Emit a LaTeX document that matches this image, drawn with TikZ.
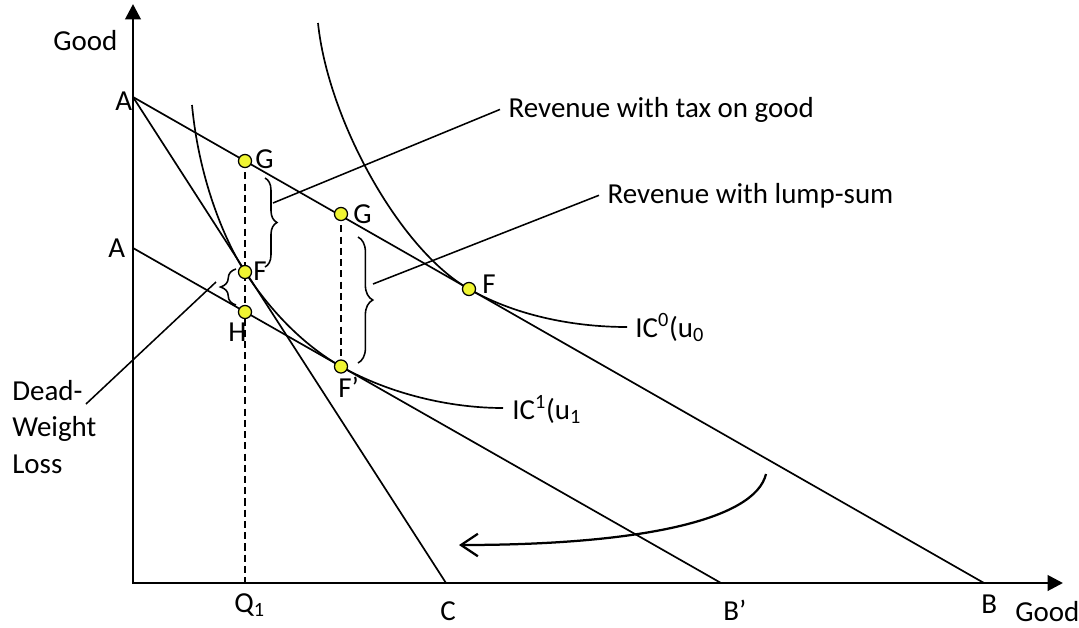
\documentclass[tikz,border=0pt]{standalone}
\usepackage{fontspec}
\setmainfont{Carlito}
\usetikzlibrary{arrows.meta,decorations.pathreplacing}
\definecolor{dotyellow}{RGB}{240,245,50}

\begin{document}
\begin{tikzpicture}[x=0.025cm, y=-0.025cm,
  every node/.style={font=\fontsize{20.6}{26}\selectfont, inner sep=0pt},
  axisline/.style={line width=2pt, {Triangle[length=11pt,width=11pt]}-{Triangle[length=11pt,width=11pt]}},
  budget/.style={line width=1.2pt},
  icurve/.style={line width=1.2pt},
  guide/.style={line width=1pt, dash pattern=on 5pt off 3pt},
  lead/.style={line width=1.1pt},
  curly/.style={line width=1.1pt, decorate, decoration={brace, amplitude=#1}},
  swing/.style={line width=1.6pt, -{Straight Barb[length=12pt,width=16pt]}},
  dot/.style={circle, draw, line width=0.9pt, fill=dotyellow, minimum size=9.3pt},
  ptlab/.style={anchor=base west},
  txt/.style={anchor=base west, inner xsep=6pt}
]
  \useasboundingbox (0,0) rectangle (1079,627);

  \coordinate (O) at (133,583);
  \coordinate (ytip) at (133,4);
  \coordinate (xtip) at (1063,583);
  \coordinate (A) at (133,97);
  \coordinate (A1) at (133,248);
  \coordinate (B) at (984,583);
  \coordinate (B1) at (721,583);
  \coordinate (C) at (446,583);
  \coordinate (Q) at (245,583);
  \coordinate (g0) at (245,161);
  \coordinate (g1) at (341,214);
  \coordinate (f0) at (469,289);
  \coordinate (f1) at (245,272);
  \coordinate (h) at (245,312);
  \coordinate (f2) at (341,366.5);

  \draw[axisline] (ytip) -- (O) -- (xtip);
  \draw[budget] (A) -- (B);
  \draw[budget] (A) -- (C);
  \draw[budget] (A1) -- (B1);

  \draw[icurve] (318,23) .. controls (328,120) and (400,250) .. (f0)
    .. controls (520,318) and (580,327) .. (627,327);
  \draw[icurve] (192,105) .. controls (199,180) and (225,241) .. (f1)
    .. controls (268,307) and (300,343) .. (f2)
    .. controls (390,394) and (450,408) .. (503,408);

  \draw[guide] (g0) -- (Q);
  \draw[guide] (g1) -- (f2);

  \draw[curly=8.5pt] (265,178) -- (265,267);
  \draw[curly=10.5pt] (358,237) -- (358,363);
  \draw[curly=11pt] (236,305) -- (236,269);

  \node[txt] (taxlbl) at (500,117) {Revenue with tax on good};
  \node[txt] (lumplbl) at (599,203) {Revenue with lump-sum};
  \node[anchor=north west, align=left] (dwl) at (12,380) {Dead-\\Weight\\Loss};
  \coordinate (taxfrom) at (273,203);
  \coordinate (lumpfrom) at (373,284);
  \coordinate (dwlfrom) at (216,282);
  \coordinate (dwlend) at (86,404);
  \draw[lead] (taxfrom) -- (taxlbl.west);
  \draw[lead] (lumpfrom) -- (lumplbl.west);
  \draw[lead] (dwlfrom) -- (dwlend);

  \node[ptlab] (ic0) at (635,337) {IC\textsuperscript{0}(u\textsubscript{0}};
  \node[ptlab] (ic1) at (512,419) {IC\textsuperscript{1}(u\textsubscript{1}};

  \coordinate (s0) at (766,474);
  \coordinate (s1) at (459,545);
  \draw[swing] (s0) .. controls (755,520) and (640,545) .. (s1);

  \node[dot] (G0) at (g0) {};
  \node[dot] (G1) at (g1) {};
  \node[dot] (F0) at (f0) {};
  \node[dot] (F1) at (f1) {};
  \node[dot] (H) at (h) {};
  \node[dot] (F2) at (f2) {};

  \node[ptlab] (lg0) at (255,168) {G};
  \node[ptlab] (lg1) at (353,223) {G};
  \node[ptlab] (lf1) at (253,280) {F};
  \node[ptlab] (lf0) at (482,293) {F};
  \node[ptlab] (lh) at (228,341) {H};
  \node[ptlab] (lf2) at (338,397) {F’};
  \node[ptlab] (la) at (115,110) {A};
  \node[ptlab] (la1) at (108,257) {A};
  \node[ptlab] (ygood) at (53,50) {Good};
  \node[ptlab] (lq) at (234,612) {Q\textsubscript{1}};
  \node[ptlab] (lc) at (440,620) {C};
  \node[ptlab] (lb1) at (723,620) {B’};
  \node[ptlab] (lb) at (981,613) {B};
  \node[ptlab] (xgood) at (1015,621) {Good};
\end{tikzpicture}
\end{document}
